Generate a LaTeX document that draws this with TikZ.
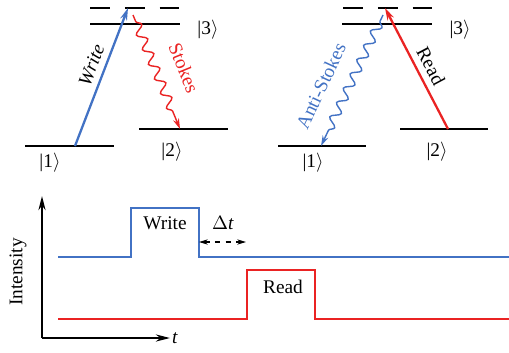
\documentclass[tikz,border=0pt]{standalone}
\usepackage{fontspec}
\setmainfont{Liberation Serif}
\usetikzlibrary{arrows.meta,decorations.pathmorphing}
\definecolor{wblue}{RGB}{66,114,196}
\definecolor{rred}{RGB}{234,35,35}

\begin{document}
\begin{tikzpicture}[x=0.02cm, y=-0.02cm,
    font=\fontsize{11}{13}\selectfont,
    level/.style={line width=1.1pt},
    virtual/.style={line width=1.1pt, dash pattern=on 11.3pt off 8.5pt},
    pump/.style={line width=1.3pt, -{Stealth[length=7pt,width=4pt]}},
    wave/.style={line width=0.8pt, -{Stealth[length=6pt,width=3.5pt]},
      decorate, decoration={snake, amplitude=2.6pt, segment length=9pt, pre length=4pt, post length=9pt}},
    trace/.style={line width=1.2pt},
    axis/.style={line width=1.3pt, -{Stealth[length=8pt,width=4pt]}}]
  \useasboundingbox (0,0) rectangle (509,352);

  % left: write process
  \coordinate (a1w) at (25,146);  \coordinate (a1e) at (114,146);
  \coordinate (a2w) at (139,129); \coordinate (a2e) at (228,129);
  \coordinate (a3w) at (90,24);   \coordinate (a3e) at (180,24);
  \coordinate (avw) at (90,8);    \coordinate (ave) at (182,8);
  \draw[level] (a1w) -- (a1e);
  \draw[level] (a2w) -- (a2e);
  \draw[level] (a3w) -- (a3e);
  \draw[virtual] (avw) -- (ave);
  \node (ak1) at (50,163) {{|}1$\rangle$};
  \node (ak2) at (172,152) {{|}2$\rangle$};
  \node (ak3) at (208,30) {{|}3$\rangle$};

  \coordinate (awrite) at (75,146); \coordinate (atop) at (128,8);
  \draw[pump, wblue] (awrite) -- (atop) node[pos=0.55, above, sloped, black] (alw) {\textit{Write}};
  \coordinate (as0) at (133,15); \coordinate (as1) at (180,129);
  \draw[wave, rred] (as0) -- (as1);
  \node[rred, rotate=-68] (als) at (184,68) {Stokes};

  % right: read process
  \coordinate (b1w) at (278,146); \coordinate (b1e) at (366,146);
  \coordinate (b2w) at (400,129); \coordinate (b2e) at (488,129);
  \coordinate (b3w) at (342,24);  \coordinate (b3e) at (432,24);
  \coordinate (bvw) at (343,8);   \coordinate (bve) at (435,8);
  \draw[level] (b1w) -- (b1e);
  \draw[level] (b2w) -- (b2e);
  \draw[level] (b3w) -- (b3e);
  \draw[virtual] (bvw) -- (bve);
  \node (bk1) at (313,163) {{|}1$\rangle$};
  \node (bk2) at (437,152) {{|}2$\rangle$};
  \node (bk3) at (460,30) {{|}3$\rangle$};

  \coordinate (bread) at (448,129); \coordinate (btop) at (385,8);
  \draw[pump, rred] (bread) -- (btop);
  \node[rotate=-62] (blr) at (431,66) {Read};
  \coordinate (ba0) at (383,15); \coordinate (ba1) at (321,146);
  \draw[wave, wblue] (ba0) -- (ba1);
  \node[wblue, rotate=65] (bla) at (321,86) {Anti-Stokes};

  % bottom: pulse sequence
  \coordinate (o) at (42,338);
  \coordinate (ytop) at (42,196);
  \coordinate (xend) at (170,338);
  \draw[axis] (o) -- (ytop);
  \draw[axis] (o) -- (xend);
  \node[anchor=west, inner sep=1pt] (tl) at (xend) {\textit{t}};
  \node[rotate=90] (il) at (18,272) {Intensity};

  \draw[trace, wblue] (58,257) -| (131,208) -| (199,257) -- (509,257);
  \draw[trace, rred] (58,319) -| (247,270) -| (315,319) -- (509,319);
  \node (wl) at (165,223) {Write};
  \node (rl) at (283,287) {Read};
  \coordinate (d0) at (199,242); \coordinate (d1) at (246,242);
  \draw[line width=0.6pt, dashed, {Stealth[length=5pt,width=3pt]}-{Stealth[length=5pt,width=3pt]}] (d0) -- (d1);
  \node (dl) at (223,223) {$\Delta$\textit{t}};
\end{tikzpicture}
\end{document}
